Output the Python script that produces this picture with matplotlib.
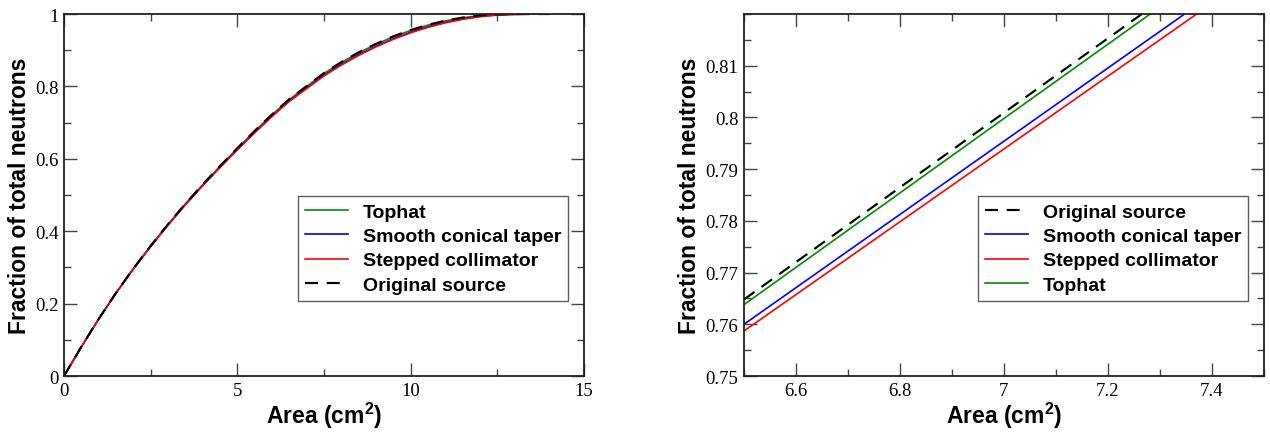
import matplotlib
matplotlib.use("Agg")
import matplotlib.pyplot as plt
from matplotlib.ticker import MultipleLocator

# area grid (cm^2) and cumulative fractions
area = [0, 0.5, 1, 1.5, 2, 2.5, 3, 3.5, 4, 4.5, 5, 5.5, 6, 6.5, 7, 7.5,
        8, 8.5, 9, 9.5, 10, 10.5, 11, 11.5, 12, 12.5, 13, 13.5, 14]
original = [0, 0.0808, 0.1577, 0.2297, 0.2968, 0.3596, 0.4192, 0.4757, 0.5290,
            0.5800, 0.6295, 0.6770, 0.7225, 0.7648, 0.8009, 0.8369, 0.8672,
            0.8940, 0.9177, 0.9383, 0.9557, 0.9702, 0.9816, 0.9902, 0.9962,
            0.9992, 1.0, 1.0, 1.0]
tophat = [0, 0.0808, 0.1577, 0.2296, 0.2966, 0.3593, 0.4188, 0.4752, 0.5284,
          0.5793, 0.6287, 0.6761, 0.7215, 0.7638, 0.7998, 0.8357, 0.8660,
          0.8928, 0.9165, 0.9372, 0.9547, 0.9693, 0.9808, 0.9896, 0.9958,
          0.9990, 1.0, 1.0, 1.0]
smooth = [0, 0.0806, 0.1573, 0.2290, 0.2958, 0.3582, 0.4174, 0.4735, 0.5263,
          0.5768, 0.6258, 0.6728, 0.7180, 0.7600, 0.7954, 0.8308, 0.8608,
          0.8874, 0.9111, 0.9319, 0.9497, 0.9648, 0.9770, 0.9866, 0.9936,
          0.9976, 0.9992, 0.9997, 1.0]
stepped = [0, 0.0805, 0.1571, 0.2288, 0.2955, 0.3578, 0.4169, 0.4729, 0.5256,
           0.5760, 0.6249, 0.6718, 0.7168, 0.7587, 0.7939, 0.8291, 0.8590,
           0.8856, 0.9093, 0.9301, 0.9480, 0.9632, 0.9756, 0.9854, 0.9927,
           0.9970, 0.9988, 0.9995, 1.0]

GREEN = '#008b00'
BLUE = '#0000ff'
RED = '#ff0000'
label_font = {'family': 'Liberation Sans', 'weight': 'bold', 'size': 16.5}
legend_font = {'family': 'Liberation Sans', 'weight': 'bold', 'size': 14}
plt.rcParams['mathtext.fontset'] = 'custom'
plt.rcParams['mathtext.bf'] = 'Liberation Sans:bold'
plt.rcParams['mathtext.rm'] = 'Liberation Sans:bold'

fig = plt.figure(figsize=(12.7, 4.39), dpi=100)
ax1 = fig.add_axes([0.0504, 0.1412, 0.4094, 0.8246])
ax2 = fig.add_axes([0.5858, 0.1412, 0.4094, 0.8246])

lw = 1.2
dash = (0, (6, 4))

# left: full range
ax1.plot(area, tophat, color=GREEN, lw=lw, label='Tophat')
ax1.plot(area, smooth, color=BLUE, lw=lw, label='Smooth conical taper')
ax1.plot(area, stepped, color=RED, lw=lw, label='Stepped collimator')
ax1.plot(area, original, color='black', lw=lw * 1.3, linestyle=dash,
         label='Original source')
ax1.set_xlim(0, 15)
ax1.set_ylim(0, 1)
ax1.xaxis.set_minor_locator(MultipleLocator(2.5))
ax1.yaxis.set_minor_locator(MultipleLocator(0.1))
ax1.set_xticks([0, 5, 10, 15], ['0', '5', '10', '15'])
ax1.set_yticks([0, 0.2, 0.4, 0.6, 0.8, 1], ['0', '0.2', '0.4', '0.6', '0.8', '1'])

# right: zoom around 7 cm^2
ax2.plot(area, original, color='black', lw=lw * 1.3, linestyle=dash,
         label='Original source')
ax2.plot(area, smooth, color=BLUE, lw=lw, label='Smooth conical taper')
ax2.plot(area, stepped, color=RED, lw=lw, label='Stepped collimator')
ax2.plot(area, tophat, color=GREEN, lw=lw, label='Tophat')
ax2.set_xlim(6.5, 7.5)
ax2.set_ylim(0.75, 0.82)
ax2.xaxis.set_minor_locator(MultipleLocator(0.1))
ax2.yaxis.set_minor_locator(MultipleLocator(0.005))
ax2.set_xticks([6.6, 6.8, 7.0, 7.2, 7.4], ['6.6', '6.8', '7', '7.2', '7.4'])
ax2.set_yticks([0.75, 0.76, 0.77, 0.78, 0.79, 0.8, 0.81],
               ['0.75', '0.76', '0.77', '0.78', '0.79', '0.8', '0.81'])

for ax in (ax1, ax2):
    ax.tick_params(which='both', direction='in', top=True, right=True,
                   color='#444444', width=1.0,
                   labelfontfamily='Liberation Serif', labelsize=13.5)
    ax.tick_params(which='major', length=9.5, pad=4)
    ax.tick_params(which='minor', length=5)
    for sp in ax.spines.values():
        sp.set_linewidth(1.3)
        sp.set_color('#222222')
    ax.set_xlabel(r'Area (cm$^\mathbf{2}$)', fontdict=label_font, labelpad=1)
    ax.set_ylabel('Fraction of total neutrons', fontdict=label_font, labelpad=3)
    leg = ax.legend(loc='upper left', bbox_to_anchor=(0.45, 0.497),
                    borderaxespad=0, prop=legend_font, frameon=True,
                    fancybox=False, handlelength=2.2, handletextpad=0.8,
                    labelspacing=0.35, borderpad=0.35)
    leg.get_frame().set_edgecolor('#333333')
    leg.get_frame().set_linewidth(1.0)

fig.savefig('out.png', dpi=100)
